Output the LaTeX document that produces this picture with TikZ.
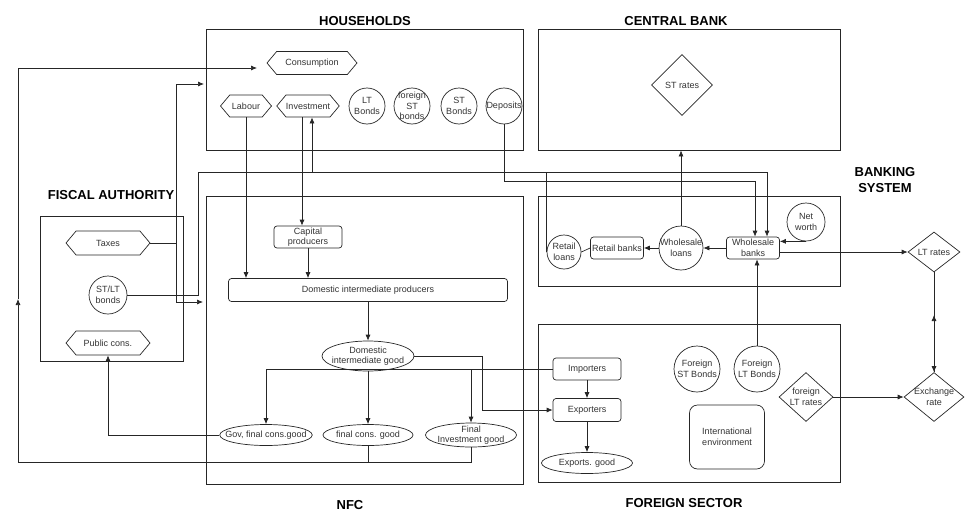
\documentclass[tikz,border=0pt]{standalone}
\usepackage{fontspec}
\setmainfont{Liberation Sans}
\usetikzlibrary{shapes.geometric,shapes.symbols,arrows.meta}
\tikzset{
    every node/.style={draw, align=center, inner sep=0pt, text=black!80,
    	font=\fontsize{9}{10.5}\selectfont}
}
\tikzset{
    every edge/.append style={line width=0.7pt}
}
\tikzset{
	sector/.style={rectangle, line width=0.8pt},
	heading/.style={draw=none, text=black, font=\fontsize{13}{16}\selectfont\bfseries},
	hexa/.style={signal, signal to=west and east, signal pointer angle=100, minimum height=23pt},
	bubble/.style={circle, inner sep=-3pt},
	block/.style={rectangle, rounded corners=3pt, minimum height=22pt},
	oval/.style={ellipse, inner xsep=-8pt, inner ysep=-2pt, minimum height=21pt},
	rhomb/.style={diamond, inner sep=-4pt}
}

\begin{document}
\begin{tikzpicture}[x=1pt, y=-1pt, line width=0.7pt, color=black!85, >={Latex[length=6pt,width=5pt]}]
	\useasboundingbox (0,0) rectangle (965,511);

	\node (hh) [sector, minimum width=317pt, minimum height=121pt] at (364.5,89.5) {};
	\node (cb) [sector, minimum width=302pt, minimum height=121pt] at (689,89.5) {};
	\node (bs) [sector, minimum width=302pt, minimum height=90pt] at (689,241) {};
	\node (fa) [sector, minimum width=143pt, minimum height=145pt] at (111.5,288.5) {};
	\node (nfc) [sector, minimum width=317pt, minimum height=288pt] at (364.5,340) {};
	\node (fs) [sector, minimum width=302pt, minimum height=158pt] at (689,403) {};

	\node (hhtitle) [heading] at (365,21) {HOUSEHOLDS};
	\node (cbtitle) [heading] at (676,21) {CENTRAL BANK};
	\node (bstitle) [heading] at (885,180) {BANKING\\SYSTEM};
	\node (fatitle) [heading] at (111,195) {FISCAL AUTHORITY};
	\node (nfctitle) [heading] at (350,505) {NFC};
	\node (fstitle) [heading] at (684,503) {FOREIGN SECTOR};

	\node (cons) [hexa, minimum width=90pt] at (312,63) {Consumption};
	\node (lab) [hexa, minimum width=51pt, minimum height=22pt] at (246,106) {Labour};
	\node (inv) [hexa, minimum width=52pt, minimum height=22pt] at (308,106) {Investment};
	\node (ltb) [bubble, minimum size=36pt] at (367,106) {LT\\Bonds};
	\node (fstb) [bubble, minimum size=36pt] at (412,106) {foreign\\ST\\bonds};
	\node (stb) [bubble, minimum size=36pt] at (459,106) {ST\\Bonds};
	\node (dep) [bubble, minimum size=36pt] at (504,106) {Deposits};

	\node (str) [rhomb, minimum width=61pt, minimum height=61pt] at (682,85) {ST rates};

	\node (tax) [hexa, minimum width=84pt, minimum height=24pt] at (108,243) {Taxes};
	\node (bonds) [bubble, minimum size=38pt] at (108,295) {ST/LT\\bonds};
	\node (pub) [hexa, minimum width=84pt, minimum height=24pt] at (108,343) {Public cons.};

	\node (cap) [block, minimum width=68pt] at (308,237) {Capital\\producers};
	\node (dip) [block, minimum width=279pt, minimum height=23pt] at (368,290) {Domestic intermediate producers};
	\node (dig) [oval, minimum width=92pt, minimum height=30pt] at (368,356) {Domestic\\intermediate good};
	\node (gov) [oval, minimum width=91pt] at (266,435) {Gov, final cons.good};
	\node (fcg) [oval, minimum width=90pt] at (368,435) {final cons. good};
	\node (fig) [oval, minimum width=91pt, minimum height=24pt] at (471,435) {Final\\Investment good};

	\node (rl) [bubble, minimum size=34pt] at (564,252) {Retail\\loans};
	\node (rb) [block, minimum width=53pt] at (617,248) {Retail banks};
	\node (wl) [bubble, minimum size=44pt] at (681,248) {Wholesale\\loans};
	\node (wb) [block, minimum width=53pt] at (753,248) {Wholesale\\banks};
	\node (nw) [bubble, minimum size=38pt] at (806,222) {Net\\worth};

	\node (imp) [block, minimum width=68pt] at (587,369) {Importers};
	\node (exp) [block, minimum width=68pt, minimum height=23pt] at (587,410) {Exporters};
	\node (exg) [oval, minimum width=91pt] at (587,463) {Exports. good};
	\node (fsb) [bubble, minimum size=46pt] at (697,369) {Foreign\\ST Bonds};
	\node (flb) [bubble, minimum size=46pt] at (757,369) {Foreign\\LT Bonds};
	\node (ie) [block, rounded corners=8pt, minimum width=75pt, minimum height=64pt] at (727,437) {International\\environment};
	\node (flr) [rhomb, minimum width=54pt, minimum height=49pt] at (806,397) {foreign\\LT rates};

	\node (ltr) [rhomb, minimum width=52pt, minimum height=40pt] at (934,252) {LT rates};
	\node (xr) [rhomb, minimum width=60pt, minimum height=49pt] at (934,397) {Exchange\\rate};

	\coordinate (lowleft) at (18,462);
	\coordinate (leftmid) at (18,299);
	\coordinate (consin) at (257,68);
	\coordinate (taxbend) at (176,243);
	\coordinate (hhin) at (204,84);
	\coordinate (nfcin) at (203,302);
	\coordinate (bondsup) at (198,172);
	\coordinate (invfeed) at (312,172);
	\coordinate (invout) at ([xshift=-6pt]inv.south);
	\coordinate (depline) at (504,181);
	\coordinate (expbend) at (482,410);
	\coordinate (ratemid) at (934,315);

	\draw [->] (fig.south) |- (lowleft) -- (leftmid);
	\draw [->] (leftmid) |- (consin);
	\draw (fcg.south) -- (fcg.south |- lowleft);
	\draw [->] (tax.east) -- (taxbend) |- (hhin);
	\draw [->] (taxbend) |- (nfcin);
	\draw [->] (bonds.east) -| (bondsup) -| ([xshift=14pt]wb.north);
	\draw [->] (rl.west) |- (invfeed) -- ([xshift=4pt]inv.south);
	\draw [->] (dep.south) -- (depline) -| ([xshift=2pt]wb.north);
	\draw [->] (wl.north) -- (wl.north |- cb.south);
	\draw (wb.west) edge [->] (wl.east); \draw (wl.west) edge [->] (rb.east);
	\draw (rb.west) edge (rl.east);
	\draw [->] (nw.south) -- (nw.south -| wb.east);
	\draw [->] (wb.east |- ltr.west) -- (ltr.west);
	\draw [->] (flb.north) -- (flb.north |- wb.south);
	\draw [->] (ltr.south) -- (xr.north); \draw [->] (xr.north) -- (ratemid);
	\draw (flr.east) edge [->] (xr.west);

	\draw [->] (lab.south) -- (lab.south |- dip.north);
	\draw [->] (invout) -- (invout |- cap.north);
	\draw [->] (cap.south) -- (cap.south |- dip.north);
	\draw [->] (dip.south) -- (dig.north);
	\draw [->] (dig.south) -- (fcg.north);
	\draw [->] (imp.west) -| (gov.north);
	\draw [->] (fig.north |- imp.west) -- (fig.north);
	\draw [->] (dig.east) -| (expbend) -- (exp.west);
	\draw [->] (imp.south) -- (exp.north);
	\draw [->] (exp.south) -- (exg.north);
	\draw [->] (gov.west) -| (pub.south);
\end{tikzpicture}
\end{document}
